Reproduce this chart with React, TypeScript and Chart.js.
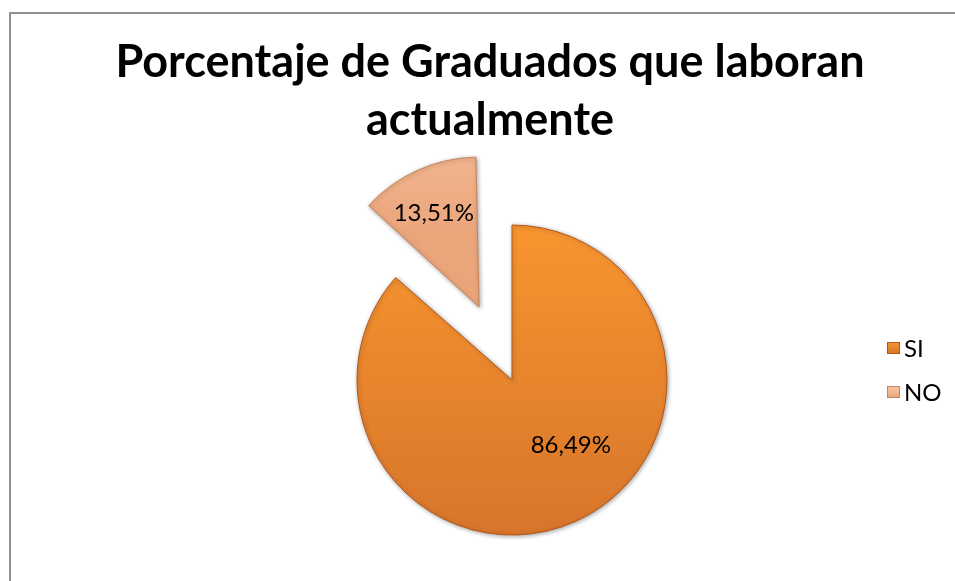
import React, { useEffect, useRef } from 'react';
import { Chart, registerables } from 'chart.js';

Chart.register(...registerables);

// ---- data ----
const categories: string[] = ['SI', 'NO'];
const values: number[] = [86.49, 13.51];
const valueLabels: string[] = ['86,49%', '13,51%'];
const titleLines: string[] = ['Porcentaje de Graduados que laboran', 'actualmente'];

// ---- styles / layout ----
const W = 955;
const H = 581;
const RADIUS = 155;
// desired explode distance in pixels (Chart.js translates by offset / 4)
const EXPLODE_PX = [0, 80];
// drawn radius of each slice
const SLICE_RADIUS = [155, 150];
const FILLS = [
  { top: '#F8952F', bottom: '#D8752B', border: '#B3581A' },
  { top: '#F9C6A4', bottom: '#EBA57B', border: '#C7845C' },
];
const LABEL_R = [87, 105];
const LABEL_NUDGE: [number, number][] = [[23, -15], [-2, 1]];
const LABEL_FONT = 24;
const TITLE_FONT = 45;
const TITLE_X = 490;
const TITLE_BASELINES = [77, 135];
const LEGEND_X = 887;
const LEGEND_BOX_TOPS = [342, 386];
const LEGEND_FONT = 24;

function sliceGradient(chart: any, i: number): any {
  const ca = chart.chartArea;
  if (!ca) return FILLS[i].top;
  const cy = (ca.top + ca.bottom) / 2;
  let y0 = cy - RADIUS;
  let y1 = cy + RADIUS;
  if (i === 1) {
    y0 = cy - RADIUS - EXPLODE_PX[1];
    y1 = cy - EXPLODE_PX[1] * 0.9;
  }
  const g = chart.ctx.createLinearGradient(0, y0, 0, y1);
  g.addColorStop(0, FILLS[i].top);
  g.addColorStop(1, FILLS[i].bottom);
  return g;
}

const decor = {
  id: 'decor',
  afterDatasetUpdate(chart: any, args: any) {
    // Chart.js grows an offset arc's radius by offset/4 * (1 - sin(circumference));
    // compensate so each slice keeps its own drawn radius.
    args.meta.data.forEach((arc: any, i: number) => {
      const circ = arc.circumference ?? (arc.endAngle - arc.startAngle);
      const fix = 1 - Math.sin(Math.min(Math.PI, circ || 0));
      arc.outerRadius = SLICE_RADIUS[i] - EXPLODE_PX[i] * fix;
    });
  },
  beforeDraw(chart: any) {
    const ctx = chart.ctx;
    ctx.save();
    ctx.fillStyle = '#ffffff';
    ctx.fillRect(0, 0, W, H);
    ctx.strokeStyle = '#8f8f8f';
    ctx.lineWidth = 2;
    ctx.strokeRect(10, 13, W + 50, H + 50);
    ctx.restore();
  },
  beforeDatasetsDraw(chart: any) {
    const ctx = chart.ctx;
    ctx.save();
    ctx.shadowColor = 'rgba(0,0,0,0.35)';
    ctx.shadowBlur = 4;
    ctx.shadowOffsetX = 1;
    ctx.shadowOffsetY = 1;
  },
  afterDatasetsDraw(chart: any) {
    const ctx = chart.ctx;
    ctx.restore();
    const meta = chart.getDatasetMeta(0);
    ctx.save();
    ctx.fillStyle = '#000000';
    ctx.font = `${LABEL_FONT}px Lato`;
    ctx.textAlign = 'center';
    ctx.textBaseline = 'alphabetic';
    meta.data.forEach((arc: any, i: number) => {
      const p = arc.getProps(['x', 'y', 'startAngle', 'endAngle'], true);
      const mid = (p.startAngle + p.endAngle) / 2;
      const r = EXPLODE_PX[i] + LABEL_R[i];
      const cx = p.x + Math.cos(mid) * r + LABEL_NUDGE[i][0];
      const cy = p.y + Math.sin(mid) * r + LABEL_NUDGE[i][1];
      ctx.fillText(valueLabels[i], cx, cy + LABEL_FONT * 0.36);
    });
    ctx.restore();
  },
  afterDraw(chart: any) {
    const ctx = chart.ctx;
    ctx.save();
    // title
    ctx.fillStyle = '#000000';
    ctx.font = `bold ${TITLE_FONT}px Lato`;
    ctx.textAlign = 'center';
    ctx.textBaseline = 'alphabetic';
    titleLines.forEach((t, i) => ctx.fillText(t, TITLE_X, TITLE_BASELINES[i]));
    // legend
    ctx.font = `${LEGEND_FONT}px Lato`;
    ctx.textAlign = 'left';
    categories.forEach((c, i) => {
      const top = LEGEND_BOX_TOPS[i];
      const g = ctx.createLinearGradient(0, top, 0, top + 12);
      g.addColorStop(0, FILLS[i].top);
      g.addColorStop(1, FILLS[i].bottom);
      ctx.fillStyle = g;
      ctx.fillRect(LEGEND_X, top, 13, 12);
      ctx.strokeStyle = FILLS[i].border;
      ctx.lineWidth = 1;
      ctx.strokeRect(LEGEND_X + 0.5, top + 0.5, 12, 11);
      ctx.fillStyle = '#000000';
      ctx.fillText(c, LEGEND_X + 17, top + 6 + LEGEND_FONT * 0.36);
    });
    ctx.restore();
  },
};

export default function App() {
  const ref = useRef<HTMLCanvasElement | null>(null);
  useEffect(() => {
    if (!ref.current) return;
    const chart = new Chart(ref.current, {
      type: 'pie',
      data: {
        labels: categories,
        datasets: [
          {
            data: values,
            offset: EXPLODE_PX.map((o) => o * 4),
            backgroundColor: (c: any) => sliceGradient(c.chart, c.dataIndex),
            borderColor: FILLS.map((f) => f.border),
            borderWidth: 1,
          },
        ],
      },
      options: {
        responsive: false,
        animation: false,
        devicePixelRatio: 1,
        radius: RADIUS,
        layout: { padding: { left: 79, right: 10, top: 185, bottom: 6 } },
        plugins: {
          legend: { display: false },
          title: { display: false },
          tooltip: { enabled: false },
        },
      } as any,
      plugins: [decor],
    });
    return () => chart.destroy();
  }, []);
  return (
    <div style={{ position: 'fixed', left: 0, top: 0, width: W, height: H, background: '#fff' }}>
      <canvas ref={ref} width={W} height={H} style={{ width: W, height: H, display: 'block' }} />
    </div>
  );
}
